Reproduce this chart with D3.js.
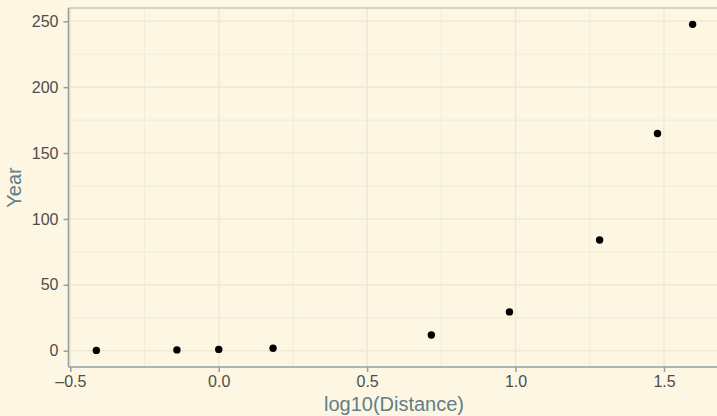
<!DOCTYPE html>
<html>
<head>
<meta charset="utf-8">
<script src="https://cdn.jsdelivr.net/npm/d3@7"></script>
<style>
  html, body { margin: 0; padding: 0; background: #fdf6e3; }
  svg { display: block; font-family: "Liberation Sans", Arial, sans-serif; }
</style>
</head>
<body>
<div id="chart"></div>
<script>
// planets: mean distance from the sun (AU) and orbital period (years)
const planets = ['Mercury', 'Venus', 'Earth', 'Mars', 'Jupiter', 'Saturn', 'Uranus', 'Neptune', 'Pluto'];
const distance = [0.387, 0.723, 1.0, 1.524, 5.203, 9.537, 19.19, 30.07, 39.48];
const year = [0.241, 0.615, 1.0, 1.881, 11.86, 29.46, 84.01, 164.8, 247.7];
const xTicks = [-0.5, 0, 0.5, 1.0, 1.5];
const yTicks = [0, 50, 100, 150, 200, 250];
const xMinor = [-0.25, 0.25, 0.75, 1.25, 1.75];
const yMinor = [25, 75, 125, 175, 225];

const W = 717;
const H = 416;
const panel = { left: 68.5, top: 8, right: 717, bottom: 367 };

const data = planets.map((p, i) => ({ name: p, d: Math.log10(distance[i]), y: year[i] }));

const svg = d3.select('#chart')
  .append('svg')
  .attr('width', W)
  .attr('height', H);

svg.append('rect')
  .attr('width', W)
  .attr('height', H)
  .attr('fill', '#fdf6e3');

// scales
const x = d3.scaleLinear()
  .domain([-0.5, 1.5])
  .range([70.3, 664]);
const y = d3.scaleLinear()
  .domain([0, 250])
  .range([350.7, 21.3]);

// grid
const grid = svg.append('g');
grid.selectAll('.vminor')
  .data(xMinor)
  .enter()
  .append('line')
  .attr('x1', (d) => x(d)).attr('x2', (d) => x(d))
  .attr('y1', panel.top).attr('y2', panel.bottom)
  .attr('stroke', '#eee8d5')
  .attr('stroke-width', 0.8);
grid.selectAll('.hminor')
  .data(yMinor)
  .enter()
  .append('line')
  .attr('x1', panel.left).attr('x2', panel.right)
  .attr('y1', (d) => y(d)).attr('y2', (d) => y(d))
  .attr('stroke', '#eee8d5')
  .attr('stroke-width', 0.8);
grid.selectAll('.vmajor')
  .data(xTicks)
  .enter()
  .append('line')
  .attr('x1', (d) => x(d)).attr('x2', (d) => x(d))
  .attr('y1', panel.top).attr('y2', panel.bottom)
  .attr('stroke', '#eee8d5')
  .attr('stroke-width', 1.5);
grid.selectAll('.hmajor')
  .data(yTicks)
  .enter()
  .append('line')
  .attr('x1', panel.left).attr('x2', panel.right)
  .attr('y1', (d) => y(d)).attr('y2', (d) => y(d))
  .attr('stroke', '#eee8d5')
  .attr('stroke-width', 1.5);

// top edge
svg.append('line')
  .attr('x1', panel.left).attr('x2', panel.right)
  .attr('y1', panel.top).attr('y2', panel.top)
  .attr('stroke', '#a5b2b2')
  .attr('stroke-width', 1);

// axes
const xAxis = svg.append('g')
  .attr('transform', `translate(0,${panel.bottom})`)
  .call(d3.axisBottom(x).tickValues(xTicks).tickFormat(d3.format('.1f')).tickSize(5).tickPadding(4));
const yAxis = svg.append('g')
  .attr('transform', `translate(${panel.left},0)`)
  .call(d3.axisLeft(y).tickValues(yTicks).tickFormat(d3.format('d')).tickSize(5).tickPadding(5));

[xAxis, yAxis].forEach((ax) => {
  ax.select('.domain').remove();
  ax.selectAll('.tick line').attr('stroke', '#93a1a1').attr('stroke-width', 1.5);
  ax.selectAll('.tick text')
    .attr('fill', '#4d4d4d')
    .style('font-size', '16px')
    .style('font-family', '"Liberation Sans", Arial, sans-serif');
});
xAxis.selectAll('.tick text').text((d) => (d < 0 ? '\u2013' + d3.format('.1f')(-d) : d3.format('.1f')(d)));

// axis lines
svg.append('line')
  .attr('x1', panel.left).attr('x2', panel.right)
  .attr('y1', panel.bottom).attr('y2', panel.bottom)
  .attr('stroke', '#93a1a1')
  .attr('stroke-width', 1.6);
svg.append('line')
  .attr('x1', panel.left).attr('x2', panel.left)
  .attr('y1', panel.top).attr('y2', panel.bottom)
  .attr('stroke', '#93a1a1')
  .attr('stroke-width', 1.6);

// points
svg.selectAll('circle')
  .data(data)
  .enter()
  .append('circle')
  .attr('cx', (d) => x(d.d))
  .attr('cy', (d) => y(d.y))
  .attr('r', 3.7)
  .attr('fill', '#000');

// axis titles
svg.append('text')
  .attr('x', 394)
  .attr('y', 411)
  .attr('text-anchor', 'middle')
  .attr('fill', '#607f89')
  .style('font-size', '20px')
  .text('log10(Distance)');
svg.append('text')
  .attr('transform', `translate(21,${(panel.top + panel.bottom) / 2}) rotate(-90)`)
  .attr('text-anchor', 'middle')
  .attr('fill', '#607f89')
  .style('font-size', '20px')
  .text('Year');
</script>
</body>
</html>
